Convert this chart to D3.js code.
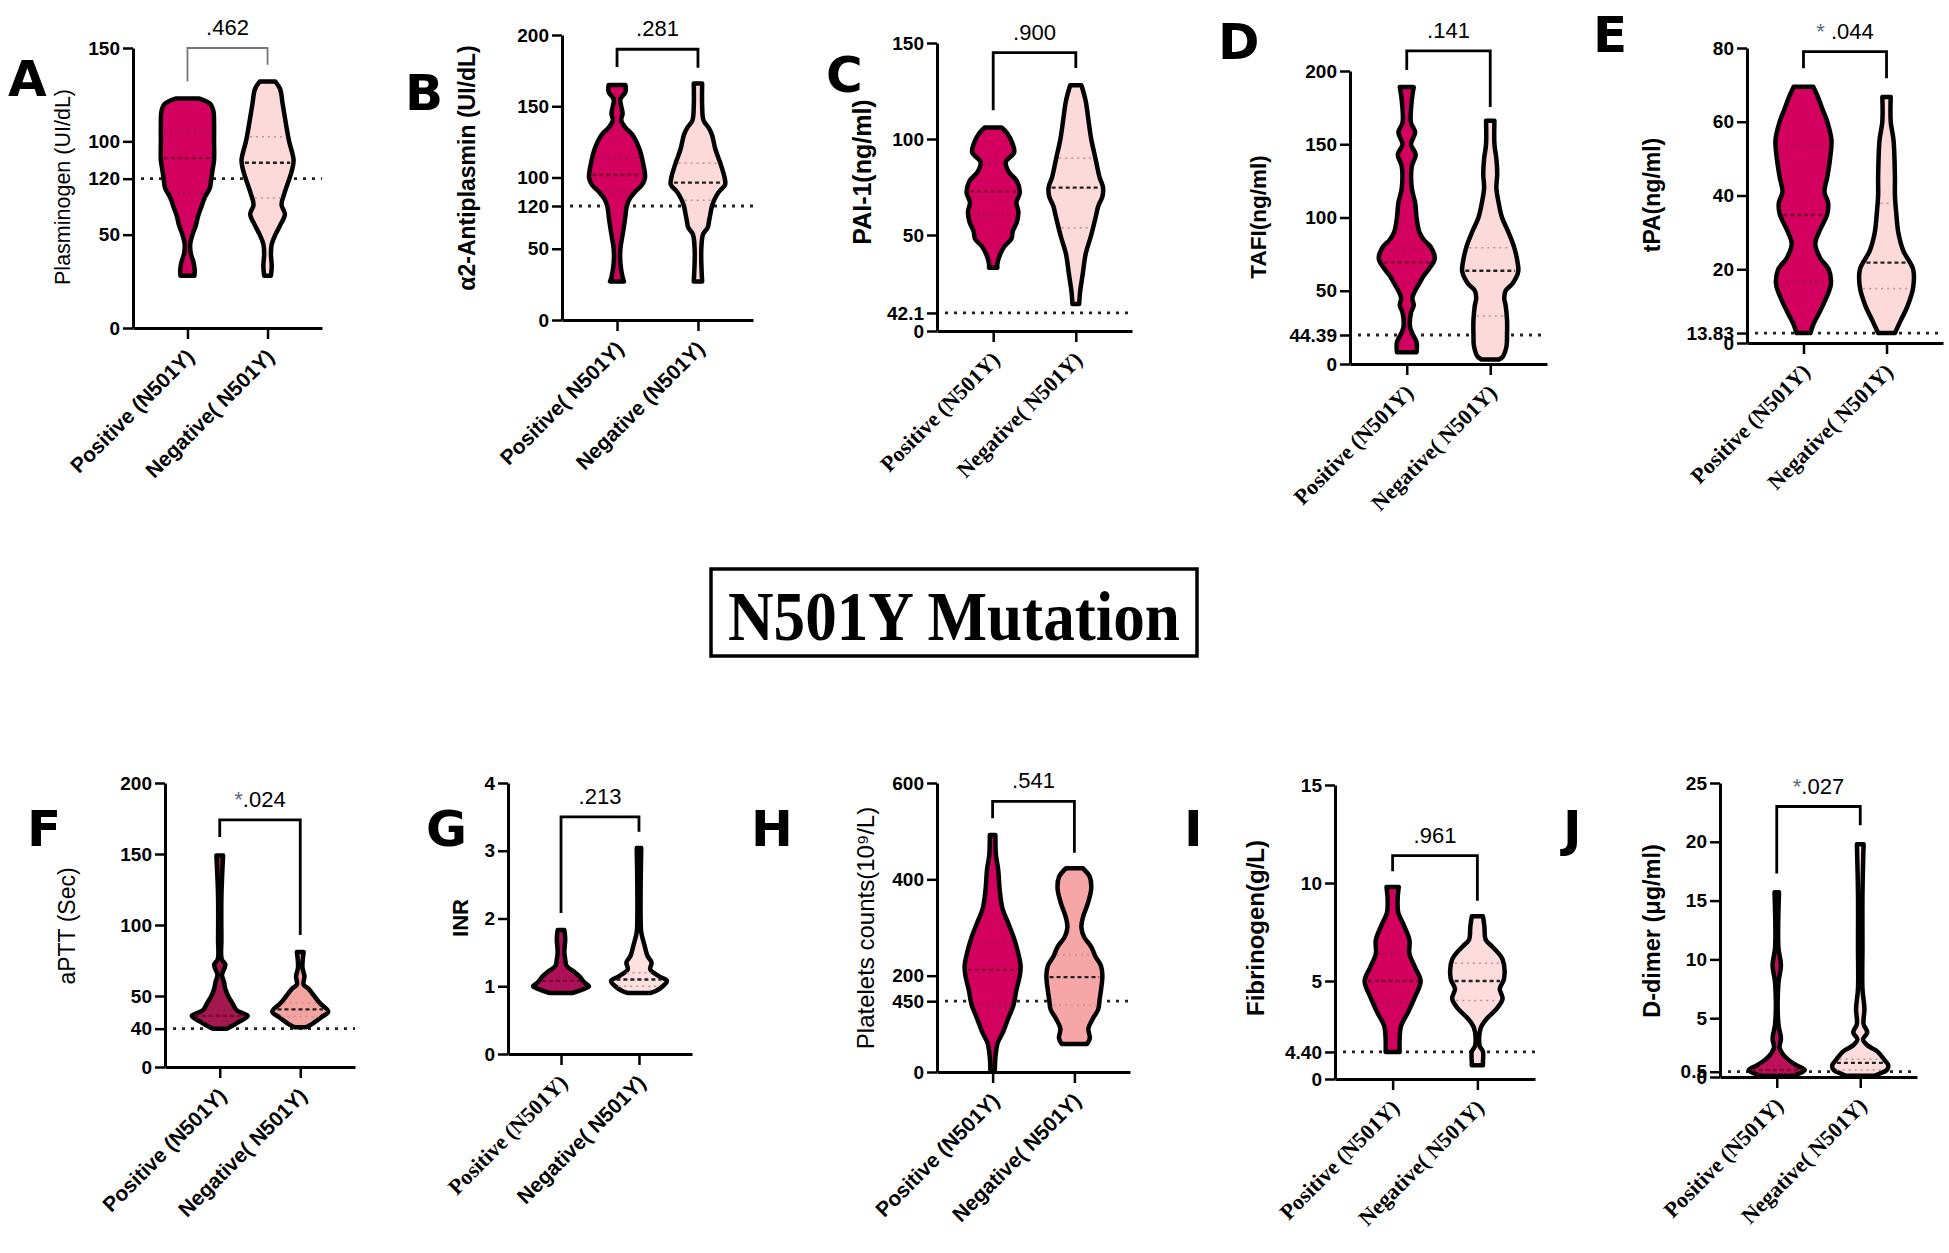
<!DOCTYPE html>
<html>
  <head>
    <meta charset="utf-8">
    <title>N501Y Mutation violins</title>
    <style>
      body { margin: 0; background: #fff; }
      svg { display: block; background: #fff; }
      .tick text { font-family: "Liberation Sans", Arial, sans-serif; font-weight: bold; font-size: 19px; fill: #000; }
    </style>
  </head>
  <body>
    <script src="https://d3js.org/d3.v7.min.js"></script>
    <script>
      // ---- data ----
      const panelLetters = ["A","B","C","D","E","F","G","H","I","J"]
      const yTitles = ["Plasminogen (UI/dL)","α2-Antiplasmin (UI/dL)","PAI-1(ng/ml)","TAFI(ng/ml)","tPA(ng/ml)",
                       "aPTT (Sec)","INR","Platelets counts(10⁹/L)","Fibrinogen(g/L)","D-dimer (μg/ml)"]
      const yMax = [150, 200, 150, 200, 80, 200, 4, 600, 15, 25]
      const tickValues = [[0,50,100,150],[0,50,100,150,200],[0,50,100,150],[0,50,100,150,200],[0,20,40,60,80],
                          [0,50,100,150,200],[0,1,2,3,4],[0,200,400,600],[0,5,10,15],[0,5,10,15,20,25]]
      // dotted reference line: where it sits and what its tick says
      const refValues = [80, 80, 9.4, 19.8, 2.7, 27, null, 147, 1.38, 0.45]
      const refLabels = ["120","120","42.1","44.39","13.83","40",null,"450","4.40","0.5"]
      const pLabels = [".462",".281",".900",".141",".044",".024",".213",".541",".961",".027"]
      const significant = [false,false,false,false,true,true,false,false,false,true]
      // bracket: [top, left leg end, right leg end] in data units
      const brackets = [[150,132,141],[190,177.5,177],[145,115,137],[213.7,200.7,175.4],[79,74.5,71.8],
                        [174,162,93],[3.5,2.08,3.28],[562,527,455],[11.4,10.6,9.1],[23,17.3,21.4]]
      const catLabels = [
        ["Positive (N501Y)","Negative( N501Y)"],["Positive( N501Y)","Negative (N501Y)"],
        ["Positive (N501Y)","Negative( N501Y)"],["Positive (N501Y)","Negative( N501Y)"],
        ["Positive (N501Y)","Negative( N501Y)"],["Positive (N501Y)","Negative( N501Y)"],
        ["Positive (N501Y)","Negative( N501Y)"],["Positive (N501Y)","Negative( N501Y)"],
        ["Positive (N501Y)","Negative( N501Y)"],["Positive (N501Y)","Negative( N501Y)"]]

      // violin outlines: [value, relative half width], bottom to top
      const posProfiles = [
        [[28,0.25],[31,0.26],[35,0.22],[40,0.12],[45,0.1],[50,0.18],[55,0.3],[60,0.38],[65,0.5],[70,0.62],[75,0.8],[80,0.85],[85,0.9],[90,0.95],[100,0.95],[110,0.95],[116,0.93],[120,0.82],[123,0.4]],
        [[27,0.25],[30,0.2],[40,0.12],[50,0.12],[60,0.2],[70,0.28],[80,0.35],[85,0.45],[90,0.65],[95,0.9],[100,1.0],[110,0.93],[120,0.8],[130,0.55],[135,0.3],[140,0.15],[145,0.2],[150,0.15],[155,0.12],[160,0.3],[165,0.3]],
        [[33,0.15],[35,0.15],[40,0.25],[44,0.4],[48,0.65],[52,0.7],[57,0.85],[62,0.9],[67,0.83],[72,0.95],[78,0.85],[83,0.55],[88,0.45],[93,0.75],[98,0.68],[103,0.5],[106,0.3]],
        [[8,0.35],[15,0.35],[20,0.22],[25,0.12],[35,0.15],[40,0.25],[45,0.2],[50,0.3],[55,0.45],[60,0.6],[65,0.8],[72,1.0],[80,0.85],[85,0.6],[90,0.45],[100,0.35],[110,0.3],[120,0.18],[135,0.18],[143,0.32],[150,0.15],[158,0.3],[165,0.15],[180,0.18],[189,0.25]],
        [[2.7,0.25],[5,0.35],[8,0.55],[12,0.8],[16,0.98],[20,0.9],[23,0.6],[27,0.42],[30,0.55],[35,0.85],[38,0.88],[41,0.75],[45,0.85],[50,0.95],[55,1.0],[60,0.85],[63,0.7],[67,0.5],[69.5,0.35]],
        [[27,0.25],[29,0.45],[32,0.7],[36,1.0],[40,0.6],[45,0.45],[50,0.3],[55,0.2],[60,0.15],[65,0.08],[72,0.2],[76,0.07],[90,0.06],[120,0.06],[149,0.12]],
        [[0.9,0.4],[0.95,0.75],[1.0,1.0],[1.05,0.85],[1.15,0.65],[1.22,0.45],[1.3,0.2],[1.4,0.15],[1.5,0.12],[1.7,0.15],[1.83,0.12]],
        [[4,0.08],[30,0.1],[60,0.18],[80,0.35],[110,0.55],[140,0.75],[170,0.85],[200,0.97],[220,1.0],[250,0.9],[280,0.75],[310,0.55],[340,0.35],[380,0.25],[420,0.2],[450,0.12],[492,0.1]],
        [[1.38,0.25],[2.0,0.25],[2.7,0.3],[3.4,0.55],[4.2,0.8],[5.0,1.0],[5.7,0.8],[6.4,0.6],[7.1,0.6],[8.0,0.35],[8.5,0.2],[9.2,0.18],[9.8,0.22]],
        [[0.1,0.5],[0.3,0.8],[0.6,1.0],[1.0,0.7],[1.5,0.4],[2.0,0.2],[2.5,0.1],[3.3,0.15],[4.5,0.06],[8,0.06],[9.5,0.15],[11,0.06],[15.7,0.08]]
      ]
      const negProfiles = [
        [[28,0.12],[33,0.15],[40,0.12],[45,0.15],[50,0.28],[55,0.45],[61,0.62],[66,0.5],[72,0.6],[80,0.78],[85,0.88],[90,0.93],[100,0.77],[110,0.65],[120,0.54],[128,0.45],[132,0.28]],
        [[27,0.15],[40,0.12],[50,0.12],[60,0.18],[65,0.35],[70,0.4],[75,0.45],[80,0.5],[85,0.6],[90,0.75],[95,0.97],[100,0.95],[110,0.8],[120,0.62],[130,0.5],[135,0.38],[140,0.2],[150,0.15],[166,0.15]],
        [[14,0.12],[20,0.15],[30,0.25],[40,0.35],[50,0.55],[60,0.72],[65,0.8],[70,0.95],[75,0.97],[80,0.85],[90,0.7],[100,0.55],[110,0.45],[120,0.35],[128,0.2]],
        [[3,0.3],[5,0.45],[12,0.58],[20,0.6],[30,0.6],[40,0.55],[45,0.5],[50,0.55],[55,0.8],[63,1.0],[70,0.97],[80,0.85],[90,0.65],[100,0.42],[110,0.3],[120,0.22],[130,0.25],[140,0.22],[150,0.15],[166,0.15]],
        [[2.7,0.3],[6,0.5],[10,0.75],[15,0.95],[20,0.95],[25,0.6],[30,0.42],[35,0.35],[40,0.3],[45,0.3],[55,0.25],[60,0.15],[66.7,0.15]],
        [[28,0.2],[30,0.4],[35,0.75],[39,1.0],[45,0.7],[50,0.5],[55,0.3],[58,0.12],[64,0.15],[70,0.08],[81,0.12]],
        [[0.9,0.4],[0.93,0.6],[1.0,0.85],[1.08,1.0],[1.15,0.7],[1.25,0.4],[1.35,0.45],[1.45,0.3],[1.6,0.2],[1.8,0.08],[2.0,0.06],[2.5,0.06],[3.04,0.08]],
        [[58,0.45],[70,0.55],[90,0.5],[110,0.65],[130,0.85],[150,0.9],[170,0.95],[200,1.0],[220,0.95],[240,0.75],[260,0.6],[280,0.35],[300,0.25],[320,0.3],[350,0.48],[380,0.6],[405,0.55],[423,0.3]],
        [[0.7,0.2],[0.9,0.2],[1.4,0.2],[1.7,0.08],[2.6,0.12],[3.1,0.35],[3.6,0.7],[4.1,0.9],[4.6,0.8],[5.1,0.95],[6.1,0.9],[6.8,0.5],[7.1,0.3],[7.8,0.25],[8.3,0.2]],
        [[0.1,0.5],[0.3,0.7],[0.6,0.95],[1.0,1.0],[1.5,0.85],[2.2,0.6],[2.7,0.25],[3.2,0.1],[3.8,0.25],[4.5,0.12],[5.8,0.15],[7.5,0.08],[11,0.08],[15.5,0.08],[19.8,0.12]]
      ]
      // [first quartile, median, third quartile]
      const posQuartiles = [[72,91,105],[90,101.8,113.5],[60.4,72.6,87.3],[55.5,69.4,78],[16.6,34.7,53.2],
                            [32,36,40],[1.02,1.08,1.13],[139,212,271],[3.9,5.0,6.4],[0.3,0.6,1.0]]
      const negQuartiles = [[69.6,88.5,102.5],[84,96.4,110],[53.8,74.7,90],[32.8,63.7,79.4],[14.8,21.8,37.9],
                            [35.5,40.6,45],[1.0,1.1,1.2],[139,197,243],[4.0,5.0,5.9],[0.6,1.2,1.5]]
      const figureTitle = "N501Y Mutation"

      // ---- layout and style ----
      // [axis x, x-axis end, y bottom, y top]
      const frames = [[133,322,328,48],[562,753,320,35],[937,1132,331,43],[1350,1547,364,71],[1747,1943,343,48],
                      [165,355,1067,783],[508,692,1054,783],[937,1130,1072,783],[1335,1535,1079,785],[1720,1917,1077,783]]
      const letterPos = [[8,96],[405,110],[826,92],[1218,59],[1593,52],[27,846],[426,846],[751,846],[1184,846],[1563,846]]
      // y title: centre x, centre y
      const titlePos = [[63,187],[467,168],[862,172],[1258,217],[1652,195],[67,926],[460,918],[865,928],[1255,928],[1652,931]]
      const titleSize = [21.5,23,25,22.5,23,23,22,24,24,23.5]
      const titleBold = [false,true,true,true,true,false,true,false,true,true]
      const serifCats = [[false,false],[false,false],[true,true],[true,true],[true,true],
                         [false,false],[true,false],[false,false],[true,true],[true,true]]
      const posFill = ["#d4005f","#d4005f","#d4005f","#d4005f","#d4005f","#a5174f","#b0105a","#d4005f","#d4005f","#c0105d"]
      const negFill = ["#fcdada","#fcdada","#fcdada","#fcdada","#fcdada","#f4a4a0","#fde0e0","#f6a6a6","#fcdcdc","#fcdcdc"]
      const bracketColor = ["#777","#000","#000","#000","#000","#000","#000","#000","#000","#000"]

      const sans = '"Liberation Sans", Arial, sans-serif'
      const serif = '"Liberation Serif", "Times New Roman", serif'

      const svg = d3.select("body").append("svg")
        .attr("width", 1949).attr("height", 1253)

      const widthAt = function(profile, v) {
        for (let i = 0; i < profile.length - 1; i++) {
          const a = profile[i], b = profile[i + 1]
          if (v >= a[0] && v <= b[0]) return a[1] + (b[1] - a[1]) * (v - a[0]) / (b[0] - a[0])
        }
        return 0
      }

      const w = d3.scaleLinear().domain([0, 1]).range([0, 28])

      panelLetters.forEach(function(letter, i) {
        const [ax, xEnd, yb, yt] = frames[i]
        const g = svg.append("g")
        const y = d3.scaleLinear().domain([0, yMax[i]]).range([yb, yt])
        const x = d3.scalePoint().domain(["pos", "neg"]).range([ax, xEnd]).padding(0.68)

        // reference line
        if (refValues[i] !== null) {
          g.append("line")
            .attr("x1", ax + 8).attr("x2", xEnd)
            .attr("y1", y(refValues[i])).attr("y2", y(refValues[i]))
            .attr("stroke", "#222").attr("stroke-width", 2.8)
            .attr("stroke-dasharray", "3 6")
        }

        // violins
        const sides = [["pos", posProfiles[i], posQuartiles[i], posFill[i], "#7a0030"],
                       ["neg", negProfiles[i], negQuartiles[i], negFill[i], "#222"]]
        sides.forEach(function(s) {
          const [key, prof, quart, fill, medColor] = s
          const cx = x(key)
          const area = d3.area()
            .curve(d3.curveCatmullRom.alpha(0.5))
            .y(d => y(d[0]))
            .x0(d => cx - w(d[1]))
            .x1(d => cx + w(d[1]))
          g.append("path")
            .attr("d", area(prof))
            .attr("fill", fill)
            .attr("stroke", "#000")
            .attr("stroke-width", 4.5)
            .attr("stroke-linejoin", "round")
          quart.forEach(function(q, k) {
            const hw = Math.max(w(widthAt(prof, q)) - 3, 0)
            g.append("line")
              .attr("x1", cx - hw).attr("x2", cx + hw)
              .attr("y1", y(q)).attr("y2", y(q))
              .attr("stroke", k === 1 ? medColor : (key === "pos" ? "#8a1a4a" : "#c98a8a"))
              .attr("stroke-width", k === 1 ? 2.4 : 1.5)
              .attr("stroke-dasharray", k === 1 ? "4 3" : "2 4")
          })
        })

        // axes
        let ticks = tickValues[i].slice()
        if (refValues[i] !== null) ticks.push(refValues[i])
        const yAxis = d3.axisLeft(y)
          .tickValues(ticks)
          .tickSize(10)
          .tickSizeOuter(0)
          .tickFormat(d => (d === refValues[i] ? refLabels[i] : d3.format("")(d)))
        const ya = g.append("g").attr("transform", "translate(" + ax + ",0)").call(yAxis)
        const xAxis = d3.axisBottom(x).tickSize(11).tickSizeOuter(0).tickFormat("")
        const xa = g.append("g").attr("transform", "translate(0," + yb + ")").call(xAxis)
        ;[ya, xa].forEach(function(a) {
          a.select(".domain").attr("stroke", "#000").attr("stroke-width", 3)
          a.selectAll(".tick line").attr("stroke", "#000").attr("stroke-width", 2.5)
        })
        ya.selectAll(".tick text").attr("x", -13)

        // category labels
        ;["pos", "neg"].forEach(function(key, k) {
          const isSerif = serifCats[i][k]
          g.append("text")
            .attr("transform", "translate(" + (x(key) + 8) + "," + (yb + 30) + ") rotate(-45)")
            .attr("text-anchor", "end")
            .attr("font-family", isSerif ? serif : sans)
            .attr("font-weight", "bold")
            .attr("font-size", isSerif ? 22 : 21)
            .text(catLabels[i][k])
        })

        // y title
        g.append("text")
          .attr("transform", "translate(" + titlePos[i][0] + "," + titlePos[i][1] + ") rotate(-90)")
          .attr("text-anchor", "middle")
          .attr("dominant-baseline", "central")
          .attr("font-family", sans)
          .attr("font-weight", titleBold[i] ? "bold" : "normal")
          .attr("font-size", titleSize[i])
          .text(yTitles[i])

        // significance bracket
        const [bt, bl, br] = brackets[i]
        const path = d3.path()
        path.moveTo(x("pos"), y(bl))
        path.lineTo(x("pos"), y(bt))
        path.lineTo(x("neg"), y(bt))
        path.lineTo(x("neg"), y(br))
        g.append("path")
          .attr("d", path.toString())
          .attr("fill", "none")
          .attr("stroke", bracketColor[i])
          .attr("stroke-width", i === 0 ? 1.8 : 2.8)
        const pt = g.append("text")
          .attr("x", (x("pos") + x("neg")) / 2)
          .attr("y", y(bt) - 13)
          .attr("text-anchor", "middle")
          .attr("font-family", sans)
          .attr("font-size", 22)
        if (significant[i]) pt.append("tspan").attr("fill", "#5a6a80").text(i === 4 ? "* " : "*")
        pt.append("tspan").attr("fill", "#000").text(pLabels[i])

        // panel letter
        svg.append("text")
          .attr("x", letterPos[i][0]).attr("y", letterPos[i][1])
          .attr("font-family", '"DejaVu Sans", sans-serif')
          .attr("font-weight", "bold")
          .attr("font-size", 50)
          .text(letter)
      })

      // central title box
      svg.append("rect")
        .attr("x", 711).attr("y", 569)
        .attr("width", 486).attr("height", 87)
        .attr("fill", "none")
        .attr("stroke", "#000")
        .attr("stroke-width", 3.5)
      svg.append("text")
        .attr("x", 954).attr("y", 640)
        .attr("text-anchor", "middle")
        .attr("font-family", serif)
        .attr("font-weight", "bold")
        .attr("font-size", 70)
        .attr("textLength", 452)
        .attr("lengthAdjust", "spacingAndGlyphs")
        .text(figureTitle)
    </script>
  </body>
</html>
